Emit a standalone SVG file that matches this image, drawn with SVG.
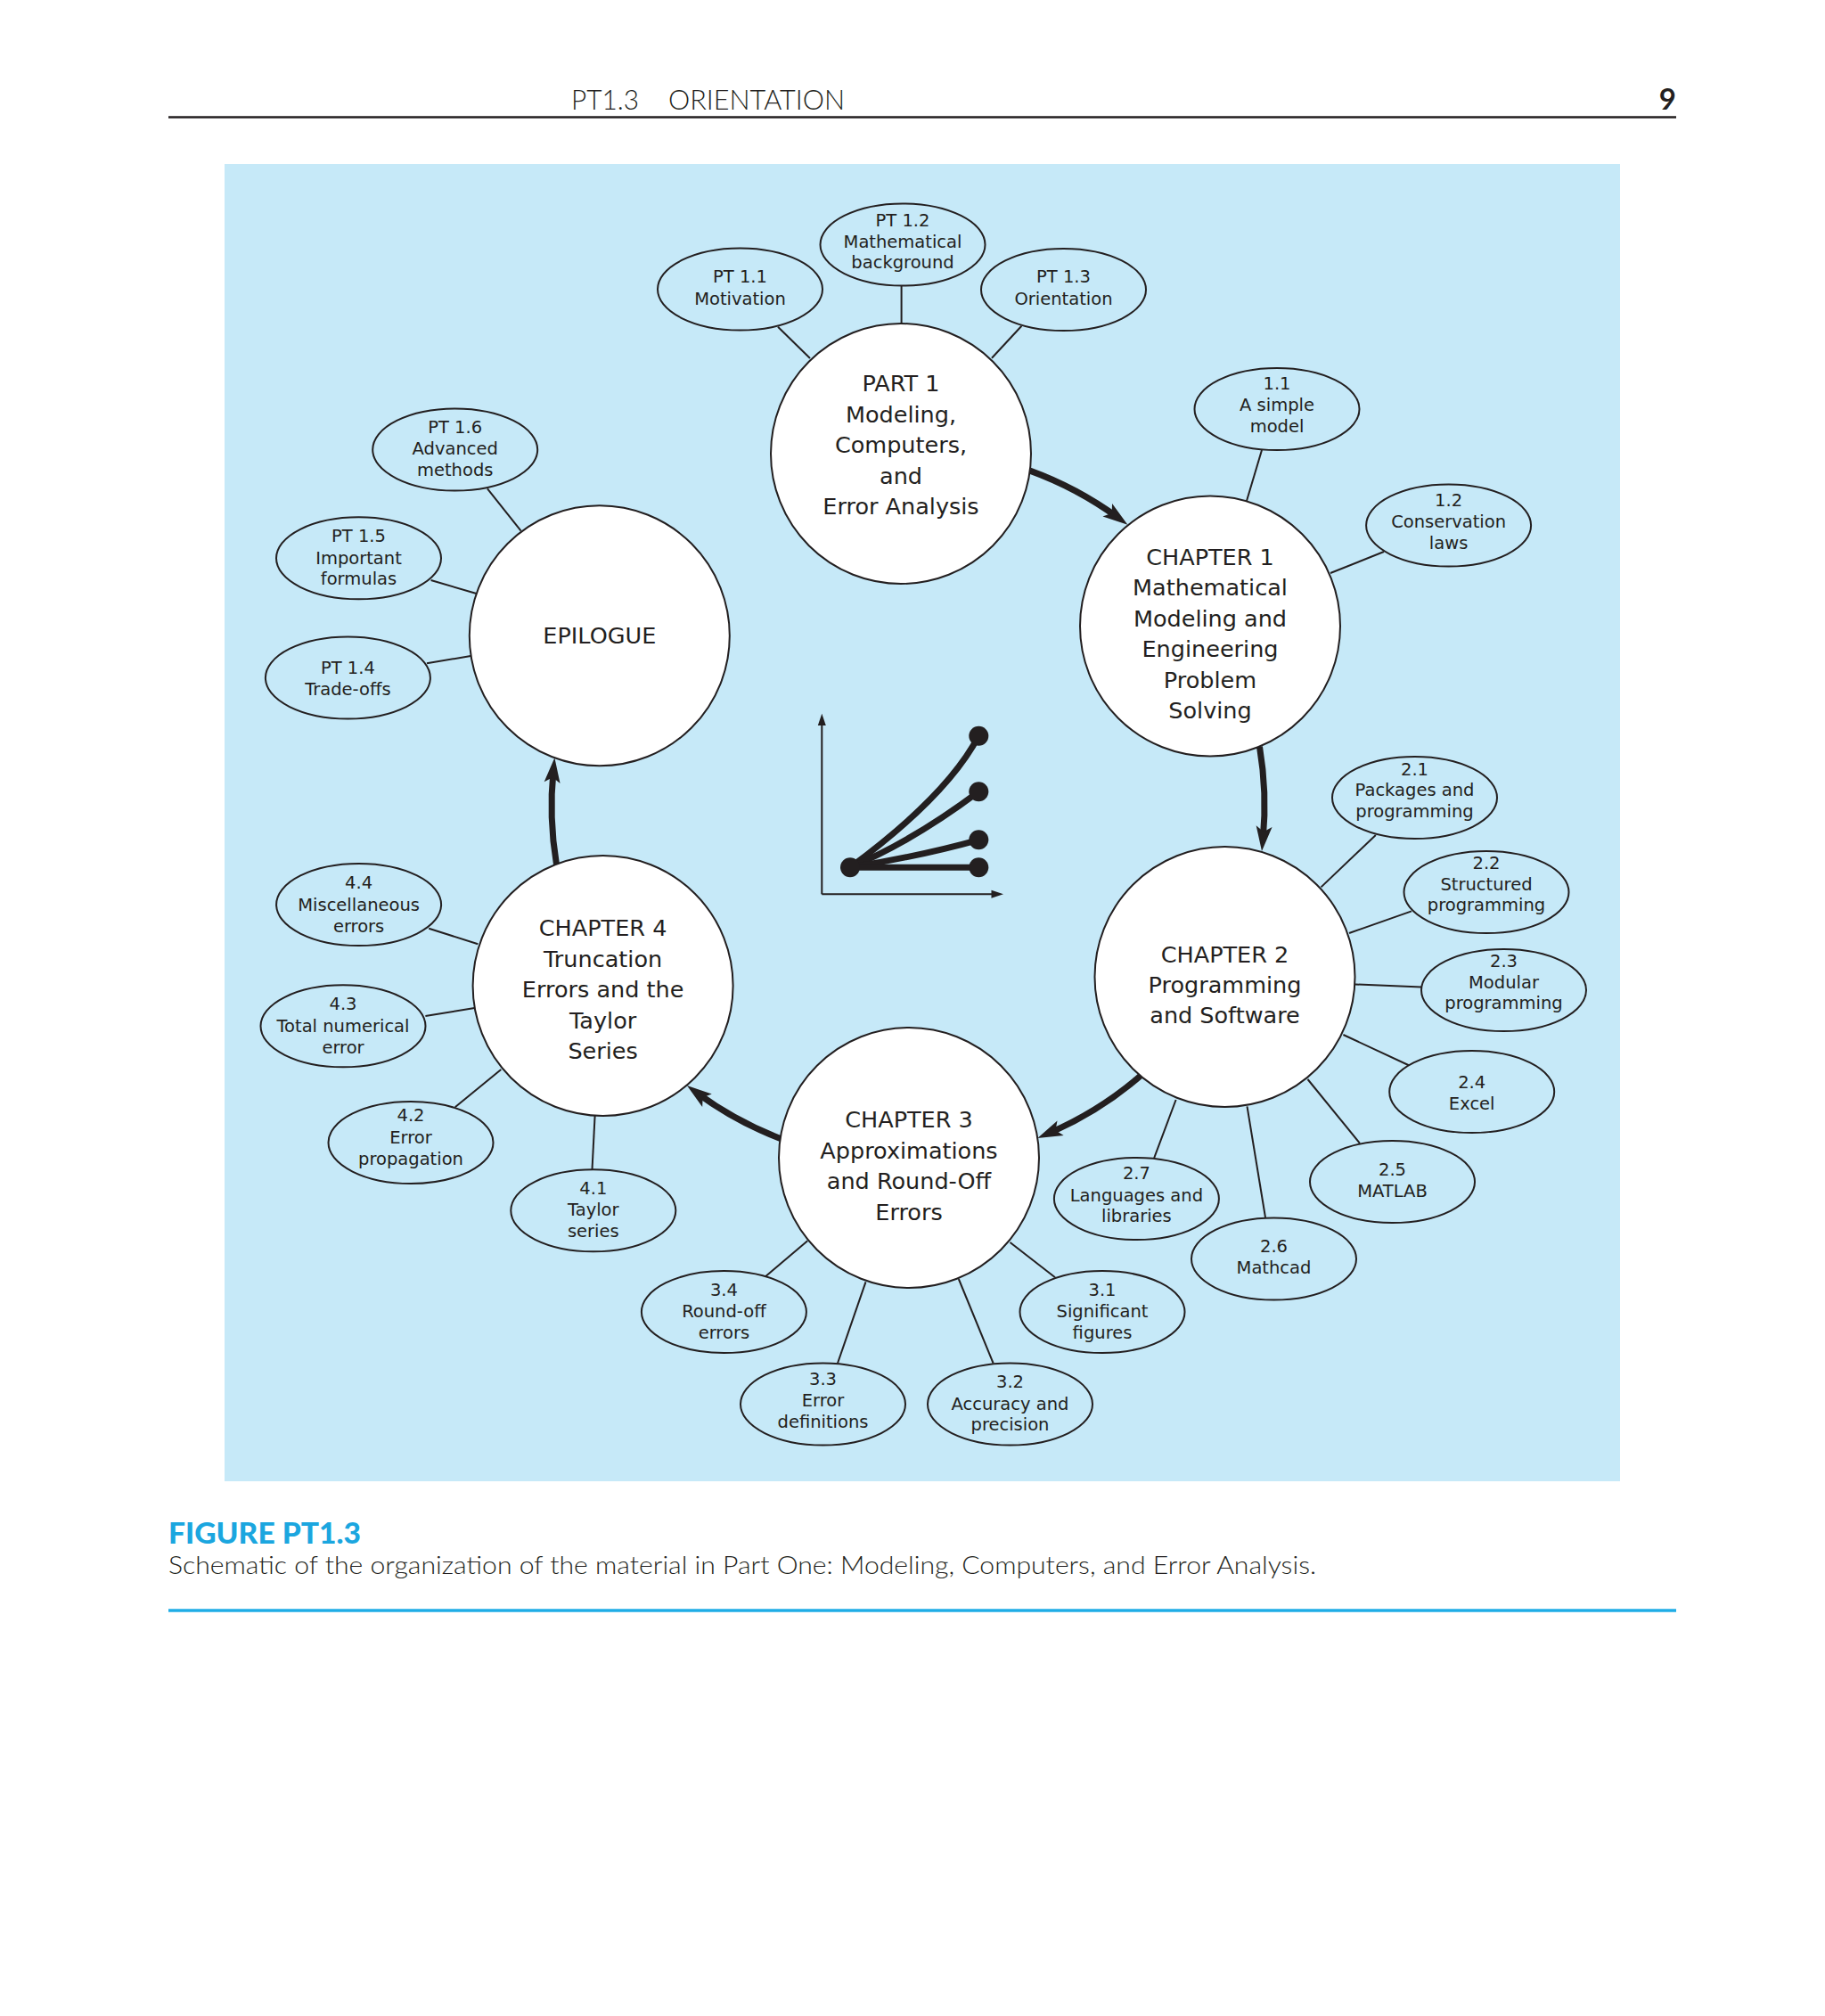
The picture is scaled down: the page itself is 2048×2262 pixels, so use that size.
<svg xmlns="http://www.w3.org/2000/svg" width="2048" height="2262" viewBox="0 0 2048 2262">
<style>
.hd{font-family:Lato,"Liberation Sans",Arial,sans-serif;font-weight:300;fill:#231f20}
.big{font-family:"DejaVu Sans",sans-serif;font-size:25.5px;fill:#231f20;text-anchor:middle}
.sm{font-family:"DejaVu Sans",sans-serif;font-size:19.5px;fill:#231f20;text-anchor:middle}
.circ{fill:#ffffff;stroke:#231f20;stroke-width:2}
.ell{fill:#c6e9f8;stroke:#231f20;stroke-width:2}
.con{stroke:#231f20;stroke-width:2;fill:none}
.arr{stroke:#231f20;stroke-width:7;fill:none;marker-end:url(#ah)}
.crv{stroke:#231f20;stroke-width:7;fill:none;stroke-linecap:round}
.dot{fill:#231f20}
</style>
<defs>
<marker id="ah" markerUnits="userSpaceOnUse" markerWidth="28" markerHeight="18" refX="14" refY="9" orient="auto" overflow="visible">
<path d="M0,0 L28,9 L0,18 L6,9 Z" fill="#231f20"/>
</marker>
</defs>
<rect x="0" y="0" width="2048" height="2262" fill="#ffffff"/>
<!-- header -->
<g id="header">
<text class="hd" x="641" y="123" font-size="32" textLength="76" lengthAdjust="spacingAndGlyphs">PT1.3</text>
<text class="hd" x="750" y="123" font-size="32" textLength="198" lengthAdjust="spacingAndGlyphs">ORIENTATION</text>
<text x="1881" y="123" font-family="Lato,'Liberation Sans',Arial,sans-serif" font-size="33" font-weight="bold" fill="#231f20" text-anchor="end">9</text>
<line x1="189" y1="131.5" x2="1881" y2="131.5" stroke="#231f20" stroke-width="2.5"/>
</g>
<rect x="252" y="184" width="1566" height="1478" fill="#c6e9f8"/>
<!-- connectors -->
<g id="connectors">
<line class="con" x1="873" y1="366.7" x2="909" y2="402"/>
<line class="con" x1="1011.6" y1="320.7" x2="1011.6" y2="363"/>
<line class="con" x1="1146.4" y1="365.7" x2="1113" y2="401.7"/>
<line class="con" x1="1416" y1="505" x2="1399" y2="562"/>
<line class="con" x1="1553" y1="619" x2="1493" y2="643"/>
<line class="con" x1="1543.8" y1="937" x2="1482.5" y2="995.4"/>
<line class="con" x1="1584" y1="1022.4" x2="1514" y2="1047"/>
<line class="con" x1="1595" y1="1107.5" x2="1521" y2="1104.5"/>
<line class="con" x1="1582.5" y1="1196" x2="1507.4" y2="1161"/>
<line class="con" x1="1526" y1="1282.8" x2="1467.5" y2="1211"/>
<line class="con" x1="1420" y1="1366" x2="1399.5" y2="1241.4"/>
<line class="con" x1="1294.7" y1="1300.5" x2="1319.6" y2="1234"/>
<line class="con" x1="1184" y1="1433.3" x2="1133.5" y2="1394"/>
<line class="con" x1="1114.6" y1="1529.5" x2="1075.8" y2="1435"/>
<line class="con" x1="940" y1="1529.5" x2="971.5" y2="1438.3"/>
<line class="con" x1="859" y1="1432.3" x2="906.2" y2="1392.3"/>
<line class="con" x1="664.5" y1="1312.3" x2="667.6" y2="1251.7"/>
<line class="con" x1="510.7" y1="1242.3" x2="562.3" y2="1200"/>
<line class="con" x1="477.4" y1="1140" x2="532.5" y2="1131"/>
<line class="con" x1="481.2" y1="1041.7" x2="536.3" y2="1059.3"/>
<line class="con" x1="547" y1="548.3" x2="584.6" y2="595.7"/>
<line class="con" x1="483.6" y1="651" x2="534.6" y2="666"/>
<line class="con" x1="479" y1="744.3" x2="528.2" y2="736"/>
<path class="arr" d="M1155.8,528.1 A400,400 0 0 1 1254.1,580.4"/>
<path class="arr" d="M1413.5,837.8 A400,400 0 0 1 1417.3,941.1"/>
<path class="arr" d="M1279.8,1207.2 A400,400 0 0 1 1177.2,1271.4"/>
<path class="arr" d="M876.3,1277.7 A400,400 0 0 1 782.2,1226.4"/>
<path class="arr" d="M624.5,970 A400,400 0 0 1 621,864.3"/>
</g>
<!-- big nodes -->
<g id="part1">
<circle class="circ" cx="1011" cy="509" r="146"/>
<text class="big" x="1011" y="439">PART 1</text>
<text class="big" x="1011" y="473.5">Modeling,</text>
<text class="big" x="1011" y="508">Computers,</text>
<text class="big" x="1011" y="542.5">and</text>
<text class="big" x="1011" y="577">Error Analysis</text>
</g>
<g id="chapter1">
<circle class="circ" cx="1358" cy="702.5" r="146"/>
<text class="big" x="1358" y="633.5">CHAPTER 1</text>
<text class="big" x="1358" y="668">Mathematical</text>
<text class="big" x="1358" y="702.5">Modeling and</text>
<text class="big" x="1358" y="737">Engineering</text>
<text class="big" x="1358" y="771.5">Problem</text>
<text class="big" x="1358" y="806">Solving</text>
</g>
<g id="chapter2">
<circle class="circ" cx="1374.5" cy="1096" r="146"/>
<text class="big" x="1374.5" y="1080">CHAPTER 2</text>
<text class="big" x="1374.5" y="1114">Programming</text>
<text class="big" x="1374.5" y="1148">and Software</text>
</g>
<g id="chapter3">
<circle class="circ" cx="1020" cy="1299" r="146"/>
<text class="big" x="1020" y="1265">CHAPTER 3</text>
<text class="big" x="1020" y="1299.5">Approximations</text>
<text class="big" x="1020" y="1334">and Round-Off</text>
<text class="big" x="1020" y="1368.5">Errors</text>
</g>
<g id="chapter4">
<circle class="circ" cx="676.6" cy="1106" r="146"/>
<text class="big" x="676.6" y="1050">CHAPTER 4</text>
<text class="big" x="676.6" y="1084.5">Truncation</text>
<text class="big" x="676.6" y="1119">Errors and the</text>
<text class="big" x="676.6" y="1153.5">Taylor</text>
<text class="big" x="676.6" y="1188">Series</text>
</g>
<g id="epilogue">
<circle class="circ" cx="672.8" cy="713.3" r="146"/>
<text class="big" x="672.8" y="722">EPILOGUE</text>
</g>
<!-- small nodes -->
<g id="pt11"><ellipse class="ell" cx="830.5" cy="324.5" rx="92.5" ry="46"/>
<text class="sm" x="830.5" y="317.3">PT 1.1</text><text class="sm" x="830.5" y="341.7">Motivation</text></g>
<g id="pt12"><ellipse class="ell" cx="1013" cy="274.5" rx="92.5" ry="46"/>
<text class="sm" x="1013" y="254">PT 1.2</text><text class="sm" x="1013" y="277.5">Mathematical</text><text class="sm" x="1013" y="301">background</text></g>
<g id="pt13"><ellipse class="ell" cx="1193.5" cy="325" rx="92.5" ry="46"/>
<text class="sm" x="1193.5" y="317.3">PT 1.3</text><text class="sm" x="1193.5" y="341.7">Orientation</text></g>
<g id="s11"><ellipse class="ell" cx="1433" cy="459" rx="92.5" ry="46"/>
<text class="sm" x="1433" y="437.3">1.1</text><text class="sm" x="1433" y="461">A simple</text><text class="sm" x="1433" y="484.7">model</text></g>
<g id="s12"><ellipse class="ell" cx="1625.6" cy="589.5" rx="92.5" ry="46"/>
<text class="sm" x="1625.6" y="568.3">1.2</text><text class="sm" x="1625.6" y="592.3">Conservation</text><text class="sm" x="1625.6" y="616">laws</text></g>
<g id="s21"><ellipse class="ell" cx="1587.5" cy="895" rx="92.5" ry="46"/>
<text class="sm" x="1587.5" y="869.6">2.1</text><text class="sm" x="1587.5" y="893.3">Packages and</text><text class="sm" x="1587.5" y="917">programming</text></g>
<g id="s22"><ellipse class="ell" cx="1668" cy="1001" rx="92.5" ry="46"/>
<text class="sm" x="1668" y="975">2.2</text><text class="sm" x="1668" y="998.5">Structured</text><text class="sm" x="1668" y="1022">programming</text></g>
<g id="s23"><ellipse class="ell" cx="1687.5" cy="1111" rx="92.5" ry="46"/>
<text class="sm" x="1687.5" y="1085">2.3</text><text class="sm" x="1687.5" y="1108.5">Modular</text><text class="sm" x="1687.5" y="1132">programming</text></g>
<g id="s24"><ellipse class="ell" cx="1651.7" cy="1225" rx="92.5" ry="46"/>
<text class="sm" x="1651.7" y="1221">2.4</text><text class="sm" x="1651.7" y="1245">Excel</text></g>
<g id="s25"><ellipse class="ell" cx="1562.5" cy="1326" rx="92.5" ry="46"/>
<text class="sm" x="1562.5" y="1319">2.5</text><text class="sm" x="1562.5" y="1343">MATLAB</text></g>
<g id="s26"><ellipse class="ell" cx="1429.5" cy="1412.5" rx="92.5" ry="46"/>
<text class="sm" x="1429.5" y="1405">2.6</text><text class="sm" x="1429.5" y="1429">Mathcad</text></g>
<g id="s27"><ellipse class="ell" cx="1275.4" cy="1345" rx="92.5" ry="46"/>
<text class="sm" x="1275.4" y="1323.3">2.7</text><text class="sm" x="1275.4" y="1347.5">Languages and</text><text class="sm" x="1275.4" y="1371">libraries</text></g>
<g id="s31"><ellipse class="ell" cx="1237" cy="1472" rx="92.5" ry="46"/>
<text class="sm" x="1237" y="1454">3.1</text><text class="sm" x="1237" y="1478.3">Significant</text><text class="sm" x="1237" y="1501.7">figures</text></g>
<g id="s32"><ellipse class="ell" cx="1133.5" cy="1575.5" rx="92.5" ry="46"/>
<text class="sm" x="1133.5" y="1557.3">3.2</text><text class="sm" x="1133.5" y="1581.7">Accuracy and</text><text class="sm" x="1133.5" y="1605">precision</text></g>
<g id="s33"><ellipse class="ell" cx="923.5" cy="1575.5" rx="92.5" ry="46"/>
<text class="sm" x="923.5" y="1554">3.3</text><text class="sm" x="923.5" y="1578.3">Error</text><text class="sm" x="923.5" y="1601.7">definitions</text></g>
<g id="s34"><ellipse class="ell" cx="812.4" cy="1472" rx="92.5" ry="46"/>
<text class="sm" x="812.4" y="1454">3.4</text><text class="sm" x="812.4" y="1478.3">Round-off</text><text class="sm" x="812.4" y="1501.7">errors</text></g>
<g id="s41"><ellipse class="ell" cx="665.8" cy="1358.3" rx="92.5" ry="46"/>
<text class="sm" x="665.8" y="1340">4.1</text><text class="sm" x="665.8" y="1364">Taylor</text><text class="sm" x="665.8" y="1388">series</text></g>
<g id="s42"><ellipse class="ell" cx="461" cy="1282" rx="92.5" ry="46"/>
<text class="sm" x="461" y="1258.3">4.2</text><text class="sm" x="461" y="1282.5">Error</text><text class="sm" x="461" y="1306.7">propagation</text></g>
<g id="s43"><ellipse class="ell" cx="385" cy="1151.3" rx="92.5" ry="46"/>
<text class="sm" x="385" y="1133.3">4.3</text><text class="sm" x="385" y="1157.5">Total numerical</text><text class="sm" x="385" y="1181.7">error</text></g>
<g id="s44"><ellipse class="ell" cx="402.6" cy="1015" rx="92.5" ry="46"/>
<text class="sm" x="402.6" y="997.3">4.4</text><text class="sm" x="402.6" y="1021.5">Miscellaneous</text><text class="sm" x="402.6" y="1045.5">errors</text></g>
<g id="pt14"><ellipse class="ell" cx="390.4" cy="760.5" rx="92.5" ry="46"/>
<text class="sm" x="390.4" y="756">PT 1.4</text><text class="sm" x="390.4" y="780">Trade-offs</text></g>
<g id="pt15"><ellipse class="ell" cx="402.5" cy="626.3" rx="92.5" ry="46"/>
<text class="sm" x="402.5" y="608.3">PT 1.5</text><text class="sm" x="402.5" y="632.7">Important</text><text class="sm" x="402.5" y="656">formulas</text></g>
<g id="pt16"><ellipse class="ell" cx="510.7" cy="504.5" rx="92.5" ry="46"/>
<text class="sm" x="510.7" y="486">PT 1.6</text><text class="sm" x="510.7" y="510">Advanced</text><text class="sm" x="510.7" y="534.3">methods</text></g>
<!-- graph icon -->
<g id="graph">
<line x1="922.3" y1="1003.3" x2="922.3" y2="812" stroke="#231f20" stroke-width="2"/>
<line x1="922.3" y1="1003.3" x2="1114" y2="1003.3" stroke="#231f20" stroke-width="2"/>
<polygon points="922.3,800.7 917.8,814 926.8,814" fill="#231f20"/>
<polygon points="1126,1003.3 1112.5,998.8 1112.5,1007.8" fill="#231f20"/>
<path class="crv" d="M954,973.3 Q1063,893 1098.3,825.7"/>
<path class="crv" d="M954,973.3 Q1024,944 1098.3,888.3"/>
<path class="crv" d="M954,973.3 Q1035,960 1098.3,942.3"/>
<path class="crv" d="M954,973.3 L1098.3,973.3"/>
<circle class="dot" cx="954" cy="973.3" r="11"/>
<circle class="dot" cx="1098.3" cy="825.7" r="11"/>
<circle class="dot" cx="1098.3" cy="888.3" r="11"/>
<circle class="dot" cx="1098.3" cy="942.3" r="11"/>
<circle class="dot" cx="1098.3" cy="973.3" r="11"/>
</g>
<!-- caption -->
<g id="caption">
<text x="189" y="1732" font-family="Lato,'Liberation Sans',Arial,sans-serif" font-size="32" font-weight="900" fill="#1ba6df" textLength="216" lengthAdjust="spacingAndGlyphs">FIGURE PT1.3</text>
<text class="hd" x="189" y="1766" font-size="28" textLength="1288" lengthAdjust="spacingAndGlyphs">Schematic of the organization of the material in Part One: Modeling, Computers, and Error Analysis.</text>
<line x1="189" y1="1807" x2="1881" y2="1807" stroke="#1fade6" stroke-width="3.5"/>
</g>
</svg>
